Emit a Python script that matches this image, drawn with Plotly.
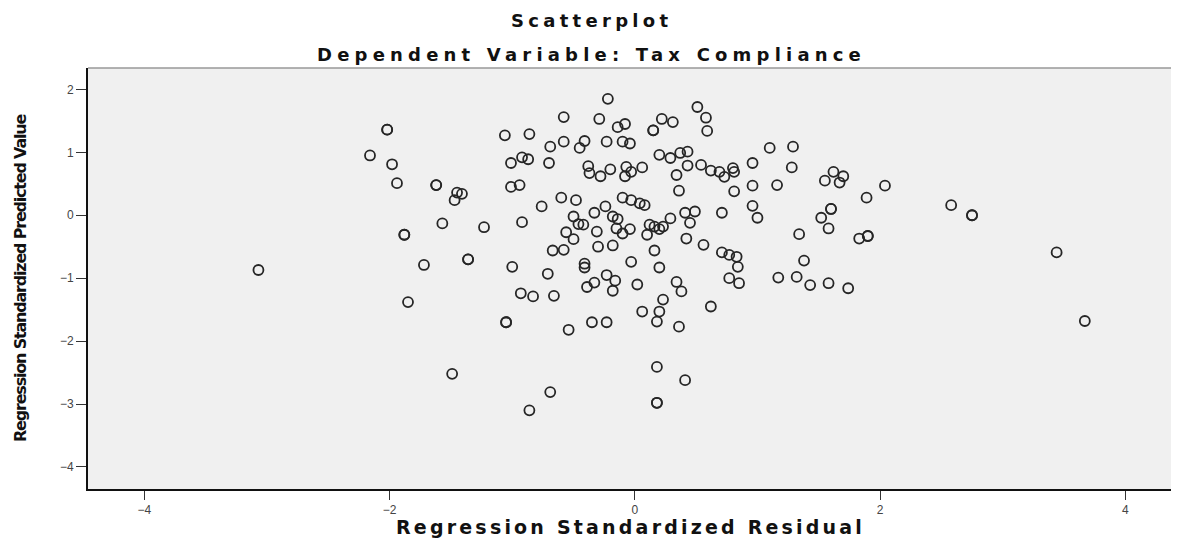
import plotly.graph_objects as go

# Regression standardized residual (x) and standardized predicted value (y)
residual = [
    -3.07, -2.02, -2.02, -2.16, -1.98, -1.94, -1.62, -1.62, -1.45, -1.41,
    -1.47, -1.57, -1.23, -1.88, -1.88, -1.72, -1.36, -1.36, -1.85, -1.49,
    -1.06, -0.86, -0.22, 0.51, -0.58, -0.29, 0.22, 0.31, 0.58, -0.14,
    -0.08, 0.15, 0.15, 0.59, -0.69, -0.58, -0.45, -0.41, -0.23, -0.10,
    -0.04, 0.20, 0.29, 0.37, 0.43, -1.01, -0.92, -0.87, -0.70, -0.38,
    -0.37, -0.28, -0.20, -0.07, -0.03, -0.08, 0.06, 0.43, 0.34, 0.54,
    0.62, 0.69, 0.73, 0.80, 0.81, 0.96, -1.01, -0.94, 0.36, 0.81,
    -0.60, -0.48, -0.10, -0.03, 0.04, 0.08, -0.76, -0.24, 0.96, -0.33,
    -0.18, -0.14, 0.41, 0.49, 0.71, -0.92, -0.50, -0.46, -0.42, 0.29,
    0.45, -0.56, -0.31, -0.15, -0.10, -0.04, 0.12, 0.16, 0.20, 0.23,
    0.10, -0.50, 0.42, 0.56, -0.30, -0.18, -0.67, -0.58, 0.16, 0.71,
    0.77, 0.83, -0.03, -1.00, -0.41, -0.41, 0.20, -0.71, -0.23, -0.33,
    -0.39, -0.16, -0.18, 0.02, 0.34, 0.38, 0.23, 0.06, 0.20, 0.18,
    0.36, 0.62, 0.77, 0.85, 0.84, -0.93, -0.83, -0.66, -1.05, -1.05,
    -0.54, -0.35, -0.23, 0.18, 0.41, -0.69, -0.86, 0.18, 0.18, 1.10,
    1.29, 1.28, 0.96, 1.16, 1.62, 1.70, 1.55, 1.67, 2.04, 1.89,
    2.58, 2.75, 2.75, 1.00, 1.60, 1.60, 1.52, 1.58, 1.34, 1.83,
    1.90, 1.90, 3.44, 1.38, 1.17, 1.32, 1.43, 1.58, 1.74, 3.67,
]
predicted = [
    -0.87, 1.36, 1.36, 0.95, 0.81, 0.51, 0.48, 0.48, 0.36, 0.34,
    0.24, -0.13, -0.19, -0.31, -0.31, -0.79, -0.70, -0.70, -1.38, -2.52,
    1.27, 1.29, 1.85, 1.72, 1.56, 1.53, 1.53, 1.48, 1.55, 1.40,
    1.45, 1.35, 1.35, 1.34, 1.09, 1.17, 1.07, 1.18, 1.17, 1.17,
    1.14, 0.96, 0.91, 0.99, 1.01, 0.83, 0.92, 0.89, 0.83, 0.78,
    0.67, 0.62, 0.73, 0.77, 0.69, 0.62, 0.76, 0.79, 0.64, 0.80,
    0.71, 0.69, 0.61, 0.75, 0.69, 0.83, 0.45, 0.48, 0.39, 0.38,
    0.28, 0.24, 0.28, 0.24, 0.19, 0.16, 0.14, 0.14, 0.15, 0.04,
    -0.02, -0.06, 0.04, 0.06, 0.04, -0.11, -0.02, -0.14, -0.15, -0.05,
    -0.12, -0.27, -0.26, -0.21, -0.29, -0.22, -0.15, -0.18, -0.22, -0.18,
    -0.31, -0.38, -0.37, -0.47, -0.50, -0.48, -0.56, -0.55, -0.56, -0.59,
    -0.63, -0.66, -0.74, -0.82, -0.77, -0.83, -0.83, -0.93, -0.95, -1.07,
    -1.14, -1.04, -1.20, -1.10, -1.06, -1.21, -1.34, -1.53, -1.53, -1.69,
    -1.77, -1.45, -1.00, -1.08, -0.82, -1.24, -1.29, -1.28, -1.70, -1.70,
    -1.82, -1.70, -1.70, -2.41, -2.62, -2.81, -3.10, -2.98, -2.98, 1.07,
    1.09, 0.76, 0.47, 0.48, 0.69, 0.62, 0.55, 0.52, 0.47, 0.28,
    0.16, 0.00, 0.00, -0.04, 0.10, 0.10, -0.04, -0.21, -0.30, -0.37,
    -0.33, -0.33, -0.59, -0.72, -0.99, -0.98, -1.11, -1.08, -1.16, -1.68,
]

x_ticks = [-4, -2, 0, 2, 4]
y_ticks = [-4, -3, -2, -1, 0, 1, 2]

title_text = "Scatterplot"
subtitle_text = "Dependent Variable: Tax Compliance"
x_title = "Regression Standardized Residual"
y_title = "Regression Standardized Predicted Value"

# the page body has an 8px margin; layout below is sized to fit the window
OFF = 8
PLOT_L, PLOT_R, PLOT_T, PLOT_B = 88, 1178, 68, 489
W, H = 1179 - OFF, 540 - OFF
PW, PH = PLOT_R - PLOT_L, PLOT_B - PLOT_T


def spaced(t, px):
    return "<span style='letter-spacing:%spx'>%s</span>" % (px, t)


def px_x(x):
    return (x - PLOT_L) / PW


def px_y(y):
    return (PLOT_B - y) / PH


fig = go.Figure()
fig.add_trace(go.Scatter(
    x=residual, y=predicted, mode="markers",
    marker=dict(symbol="circle-open", size=10, color="#262626",
                line=dict(width=1.8, color="#262626")),
    hoverinfo="x+y", showlegend=False,
))

font_bold = "DejaVu Sans, Liberation Sans, Arial, sans-serif"

fig.update_layout(
    width=W, height=H,
    margin=dict(l=PLOT_L - OFF, r=OFF + W - PLOT_R, t=PLOT_T - OFF, b=OFF + H - PLOT_B),
    paper_bgcolor="white",
    plot_bgcolor="#f0f0f0",
    xaxis=dict(
        range=[-4.46, 4.43], tickvals=x_ticks, showgrid=False, zeroline=False,
        showline=True, linecolor="#111", linewidth=2,
        ticks="outside", ticklen=9, tickwidth=1, tickcolor="#333",
        tickfont=dict(family="Liberation Sans, Arial, sans-serif", size=12, color="#444"),
    ),
    yaxis=dict(
        range=[-4.35, 2.34], tickvals=y_ticks, showgrid=False, zeroline=False,
        showline=True, linecolor="#111", linewidth=2,
        ticks="outside", ticklen=10, tickwidth=1, tickcolor="#333",
        tickfont=dict(family="Liberation Sans, Arial, sans-serif", size=12, color="#444"),
    ),
    shapes=[dict(type="line", xref="paper", yref="paper", x0=0, x1=1, y0=1, y1=1,
                 line=dict(color="#999", width=1.5))],
    annotations=[
        dict(text="<b>" + spaced(title_text, 4.3) + "</b>", xref="paper", yref="paper",
             x=px_x(591), y=px_y(20), xanchor="center", yanchor="middle",
             showarrow=False, font=dict(family=font_bold, size=18, color="#111")),
        dict(text="<b>" + spaced(subtitle_text, 5.2) + "</b>", xref="paper", yref="paper",
             x=px_x(591), y=px_y(55), xanchor="center", yanchor="middle",
             showarrow=False, font=dict(family=font_bold, size=18, color="#111")),
        dict(text="<b>" + spaced(x_title, 3.2) + "</b>", xref="paper", yref="paper",
             x=px_x(630), y=px_y(527), xanchor="center", yanchor="middle",
             showarrow=False, font=dict(family=font_bold, size=19, color="#111")),
        dict(text="<b>" + spaced(y_title, -1.2) + "</b>", xref="paper", yref="paper",
             x=px_x(20), y=px_y(278), xanchor="center", yanchor="middle", textangle=-90,
             showarrow=False,
             font=dict(family=font_bold, size=16, color="#111")),
    ],
)

fig.write_html("out.html")
